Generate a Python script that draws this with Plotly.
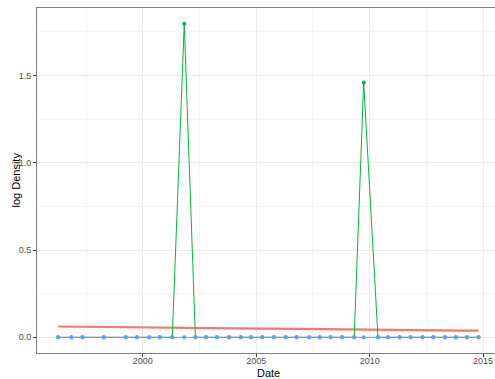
import plotly.graph_objects as go

# Sampling dates (roughly twice a year)
dates = [
    "1996-04-08", "1996-11-07", "1997-05-05", "1998-04-12", "1999-04-01",
    "1999-09-27", "2000-04-15", "2000-10-01", "2001-04-20", "2001-10-30",
    "2002-04-27", "2002-10-15", "2003-04-08", "2003-10-20", "2004-04-27",
    "2004-10-05", "2005-04-08", "2005-10-12", "2006-04-20", "2006-10-12",
    "2007-05-05", "2007-10-20", "2008-04-12", "2008-10-15", "2009-04-27",
    "2009-09-27", "2010-05-15", "2010-10-22", "2011-04-27", "2011-10-22",
    "2012-05-01", "2012-10-20", "2013-04-27", "2013-10-20", "2014-04-15",
    "2014-10-20",
]

# log density per group
red_vals = [
    0.062, 0.061, 0.061, 0.059, 0.058, 0.058, 0.057, 0.056, 0.056, 0.055,
    0.054, 0.054, 0.053, 0.052, 0.052, 0.051, 0.050, 0.050, 0.049, 0.048,
    0.048, 0.047, 0.046, 0.046, 0.045, 0.044, 0.044, 0.043, 0.042, 0.042,
    0.041, 0.040, 0.040, 0.039, 0.038, 0.038,
]
green_vals = [
    0, 0, 0, 0, 0, 0, 0, 0, 0, 1.796,
    0, 0, 0, 0, 0, 0, 0, 0, 0, 0,
    0, 0, 0, 0, 0, 1.46, 0, 0, 0, 0,
    0, 0, 0, 0, 0, 0,
]
blue_vals = [0] * len(dates)

y_ticks = [0.0, 0.5, 1.0, 1.5]

RED = "#F8766D"
GREEN = "#00BA38"
BLUE = "#619CFF"
FONT = "Liberation Sans, Arial, sans-serif"

fig = go.Figure()
fig.add_trace(go.Scatter(x=dates, y=red_vals, mode="lines",
                         line=dict(color=RED, width=2.2), showlegend=False))
fig.add_trace(go.Scatter(x=dates, y=green_vals, mode="lines+markers",
                         line=dict(color=GREEN, width=1),
                         marker=dict(color=GREEN, size=4), showlegend=False))
fig.add_trace(go.Scatter(x=dates, y=blue_vals, mode="lines+markers",
                         line=dict(color=BLUE, width=1),
                         marker=dict(color=BLUE, size=4), showlegend=False))

fig.update_layout(
    width=495, height=379,
    margin=dict(l=37, r=0, t=8, b=26),
    paper_bgcolor="white", plot_bgcolor="white",
    font=dict(family=FONT, size=9, color="#4D4D4D"),
    annotations=[
        dict(text="log Density", xref="paper", yref="paper",
             x=(15 - 37) / 458, y=0.5, xanchor="center", yanchor="middle",
             textangle=-90, showarrow=False,
             font=dict(family=FONT, size=11, color="black")),
        dict(text="Date", xref="paper", yref="paper",
             x=(268.5 - 37) / 458, y=0, yshift=-20,
             xanchor="center", yanchor="middle", showarrow=False,
             font=dict(family=FONT, size=11, color="black")),
    ],
)

fig.update_xaxes(
    type="date",
    range=["1995-05-04", "2015-07-12"],
    tick0="2000-01-01", dtick="M60", tickformat="%Y",
    ticks="outside", ticklen=3, tickcolor="#333333", tickwidth=1,
    ticklabelstandoff=-4,
    tickfont=dict(family=FONT, size=9, color="#4D4D4D"),
    showgrid=True, gridcolor="#EBEBEB", gridwidth=1,
    minor=dict(tick0="2000-01-01", dtick="M30", showgrid=True,
               gridcolor="#F5F5F5", gridwidth=1, ticks=""),
    showline=True, linecolor="#7F7F7F", linewidth=1, mirror=True,
    zeroline=False,
)
fig.update_yaxes(
    range=[-0.0898, 1.886],
    tickvals=y_ticks, ticktext=[f"{v:.1f}" for v in y_ticks],
    ticks="outside", ticklen=3, tickcolor="#333333", tickwidth=1,
    tickfont=dict(family=FONT, size=9, color="#4D4D4D"),
    showgrid=True, gridcolor="#EBEBEB", gridwidth=1,
    minor=dict(tickvals=[0.25, 0.75, 1.25, 1.75], showgrid=True,
               gridcolor="#F5F5F5", gridwidth=1, ticks=""),
    showline=True, linecolor="#7F7F7F", linewidth=1, mirror=False,
    zeroline=False,
)

fig.write_html("out.html")
